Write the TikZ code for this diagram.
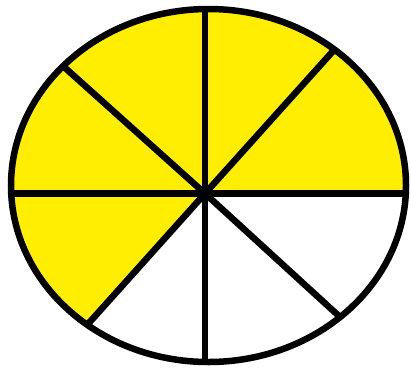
\documentclass[tikz,border=0pt]{standalone}
\usepackage{xcolor}
\usepackage{tikz}
\usetikzlibrary{calc}
\definecolor{lemon}{RGB}{255,238,0}

\begin{document}
\begin{tikzpicture}[
			x=1pt, y=-1pt,
			rim/.style={draw, line width=6.5pt},
			spoke/.style={draw, line width=6.5pt},
			part/.style={fill=lemon}
			]
			\useasboundingbox (0,0) rectangle (411,370);
			
			% -------------------------------
			% PUNTOS
			% -------------------------------
			\coordinate (o)  at (205,193.5);
			\coordinate (n)  at (205,6);
			\coordinate (s)  at (205,364);
			\coordinate (w)  at (9,193.5);
			\coordinate (e)  at (408,193.5);
			\coordinate (nw) at (63,66);
			\coordinate (ne) at (334,50);
			\coordinate (sw) at (88,324);
			\coordinate (se) at (340,317);
			
			% -------------------------------
			% PARTES AMARILLAS
			% -------------------------------
			\begin{scope}
				\clip (208.5,185.5) ellipse (197.5 and 176.5);
				\fill[part] (o) -- ($(o)!2!(sw)$) -- (-60,-60) -- (470,-60) -- (470,193.5) -- cycle;
			\end{scope}
			
			% -------------------------------
			% RADIOS
			% -------------------------------
			\draw[spoke] (o) -- (n);
			\draw[spoke] (o) -- (s);
			\draw[spoke] (o) -- (w);
			\draw[spoke] (o) -- (e);
			\draw[spoke] (o) -- (nw);
			\draw[spoke] (o) -- (ne);
			\draw[spoke] (o) -- (sw);
			\draw[spoke] (o) -- (se);
			
			\draw[rim] (208.5,185.5) ellipse (197.5 and 176.5);
			
		\end{tikzpicture}
\end{document}
